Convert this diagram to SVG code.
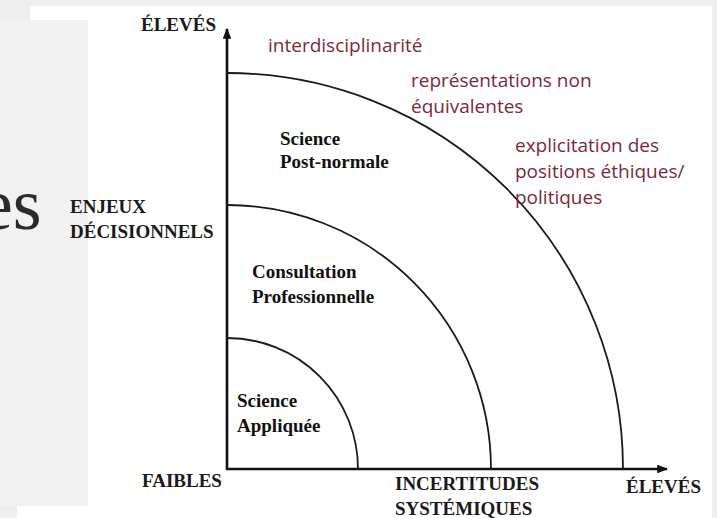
<svg xmlns="http://www.w3.org/2000/svg" width="717" height="518" viewBox="0 0 717 518">
<style>
.ax{font-family:"Liberation Serif","Times New Roman",serif;font-weight:bold;font-size:19px;fill:#1a1a1a}
.nd{font-family:"Liberation Serif","Times New Roman",serif;font-weight:bold;font-size:19px;fill:#111}
.mr{font-family:"Open Sans","Noto Sans",sans-serif;font-size:19px;fill:#7b2a3a}
.big{font-family:"Liberation Serif","Times New Roman",serif;font-size:74px;fill:#2b2b2b}
.arc{fill:none;stroke:#1a1a1a;stroke-width:1.8}
.axis{stroke:#111;stroke-width:2.6;fill:none}
</style>
<defs>
<marker id="ah" viewBox="0 0 10 8" refX="9" refY="4" markerWidth="4.2" markerHeight="3.4" orient="auto" markerUnits="strokeWidth">
<path d="M0,0 L10,4 L0,8 Z" fill="#111"/>
</marker>
</defs>
<rect x="0" y="0" width="717" height="518" fill="#eeeeee"/>
<rect x="30" y="6" width="682" height="512" fill="#ffffff"/>
<rect x="17" y="506" width="20" height="12" fill="#ffffff"/>
<rect x="0" y="20" width="88" height="486" fill="#f2f2f2"/>
<text class="big" x="-20" y="229">es</text>

<g id="connectors">
<line class="axis" x1="227" y1="470" x2="227" y2="29" marker-end="url(#ah)"/>
<line class="axis" x1="226" y1="469" x2="667" y2="469" marker-end="url(#ah)"/>
</g>

<g id="node-appliquee">
<path class="arc" d="M227,338 A131,131 0 0 1 358,469"/>
<text class="nd" x="237" y="407">Science</text>
<text class="nd" x="237" y="432">Appliquée</text>
</g>
<g id="node-consultation">
<path class="arc" d="M227,205 A264,264 0 0 1 491,469"/>
<text class="nd" x="252" y="278">Consultation</text>
<text class="nd" x="252" y="303">Professionnelle</text>
</g>
<g id="node-postnormale">
<path class="arc" d="M227,73 A396,396 0 0 1 623,469"/>
<text class="nd" x="280" y="145">Science</text>
<text class="nd" x="280" y="168">Post-normale</text>
</g>

<g id="axis-labels">
<text class="ax" x="216" y="31" text-anchor="end">ÉLEVÉS</text>
<text class="ax" x="70" y="213">ENJEUX</text>
<text class="ax" x="70" y="238">DÉCISIONNELS</text>
<text class="ax" x="142" y="487">FAIBLES</text>
<text class="ax" x="395" y="490">INCERTITUDES</text>
<text class="ax" x="395" y="515">SYSTÉMIQUES</text>
<text class="ax" x="626" y="493">ÉLEVÉS</text>
</g>

<g id="annotations">
<text class="mr" x="268" y="52">interdisciplinarité</text>
<text class="mr" x="411" y="87">représentations non</text>
<text class="mr" x="411" y="113">équivalentes</text>
<text class="mr" x="515" y="152">explicitation des</text>
<text class="mr" x="515" y="178">positions éthiques/</text>
<text class="mr" x="515" y="204">politiques</text>
</g>
</svg>
